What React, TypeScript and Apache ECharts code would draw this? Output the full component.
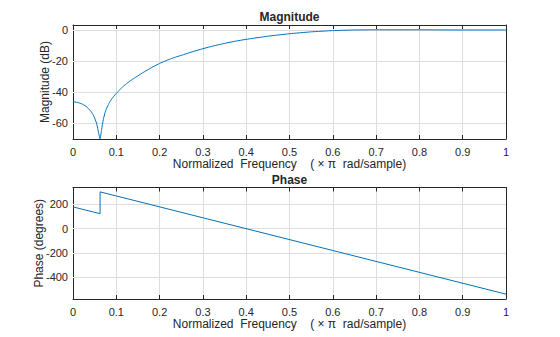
import React, { useEffect, useRef } from "react";
import * as echarts from "echarts";

// Magnitude response (normalized frequency, dB)
const magFreq = [0, 0.01, 0.02, 0.03, 0.04, 0.045, 0.05, 0.055, 0.059, 0.0625, 0.066, 0.07, 0.074, 0.077, 0.081, 0.085, 0.09, 0.095, 0.1, 0.107, 0.115, 0.122, 0.13, 0.14, 0.15, 0.162, 0.175, 0.187, 0.2, 0.212, 0.225, 0.237, 0.25, 0.275, 0.3, 0.325, 0.35, 0.375, 0.4, 0.45, 0.5, 0.55, 0.6, 0.65, 0.7, 0.8, 0.9, 1];
const magDb = [-46.1, -46.5, -47.4, -49, -51.8, -53.7, -56.5, -60.5, -66, -69.9, -64, -57.5, -53.1, -50.7, -48.3, -46.2, -44.1, -42.3, -40.7, -38.7, -36.4, -34.9, -33.1, -31.2, -29.4, -27.3, -25.2, -23.3, -21.5, -20.0, -18.6, -17.4, -16.3, -14.05, -12, -10.2, -8.6, -7.2, -6, -4, -2.4, -1.2, -0.4, 0, 0.1, 0.1, 0, 0];

// Phase response (normalized frequency, degrees)
const phaseFreq = [0, 0.0625, 0.0625, 1];
const phaseDeg = [180, 124, 304, -540];

const magTicks = [-60, -40, -20, 0];
const phaseTicks = [-400, -200, 0, 200];

const FONT = "Liberation Sans, Arial, Helvetica, sans-serif";
const INK = "#262626";
const GRIDC = "#dedede";
const LINE = "#0072BD";
const XNAME = "Normalized  Frequency    ( × π  rad/sample)";
const FS = 12;
const TFS = 11;

export default function App() {
  const ref = useRef<HTMLDivElement>(null);
  useEffect(() => {
    if (!ref.current) return;
    const chart = echarts.init(ref.current, null, { renderer: "svg" });
    const grids = [
      { left: 73, top: 25, width: 433, height: 114 },
      { left: 73, top: 187.5, width: 433, height: 111.5 },
    ];
    const xAxes: any[] = [];
    const yAxes: any[] = [];
    [0, 1].forEach((g) => {
      xAxes.push({
        type: "value",
        gridIndex: g,
        min: 0,
        max: 1,
        interval: 0.1,
        position: "bottom",
        name: XNAME,
        nameLocation: "middle",
        nameGap: 19,
        nameMoveOverlap: false,
        nameTextStyle: { fontFamily: FONT, fontSize: FS, color: INK },
        axisLine: { show: true, onZero: false, lineStyle: { color: INK, width: 1 } },
        axisTick: { show: true, inside: true, length: 4, lineStyle: { color: INK } },
        axisLabel: {
          show: true,
          fontFamily: FONT,
          fontSize: TFS,
          color: INK,
          margin: 7,
          formatter: (v: number) => String(Math.round(v * 10) / 10),
        },
        splitLine: { show: true, lineStyle: { color: GRIDC, width: 1 } },
      });
      xAxes.push({
        type: "value",
        gridIndex: g,
        min: 0,
        max: 1,
        interval: 0.1,
        position: "top",
        axisLine: { show: true, onZero: false, lineStyle: { color: INK, width: 1 } },
        axisTick: { show: true, inside: true, length: 4, lineStyle: { color: INK } },
        axisLabel: { show: false },
        splitLine: { show: false },
      });
      const ticks = g === 0 ? magTicks : phaseTicks;
      const min = g === 0 ? -70 : -580;
      const max = g === 0 ? 3.2 : 340;
      yAxes.push({
        type: "value",
        gridIndex: g,
        min,
        max,
        position: "left",
        name: g === 0 ? "Magnitude (dB)" : "Phase (degrees)",
        nameLocation: "middle",
        nameGap: g === 0 ? 22 : 28.5,
        nameMoveOverlap: false,
        nameTextStyle: { fontFamily: FONT, fontSize: FS, color: INK },
        axisLine: { show: true, onZero: false, lineStyle: { color: INK, width: 1 } },
        axisTick: { show: true, inside: true, length: 4, customValues: ticks, lineStyle: { color: INK } },
        axisLabel: {
          show: true,
          fontFamily: FONT,
          fontSize: TFS,
          color: INK,
          margin: 5,
          customValues: ticks,
        },
        splitLine: { show: false },
      });
      yAxes.push({
        type: "value",
        gridIndex: g,
        min,
        max,
        position: "right",
        axisLine: { show: true, onZero: false, lineStyle: { color: INK, width: 1 } },
        axisTick: { show: true, inside: true, length: 4, customValues: ticks, lineStyle: { color: INK } },
        axisLabel: { show: false },
        splitLine: { show: false },
      });
    });

    const gridMark = (ticks: number[]) => ({
      silent: true,
      symbol: "none",
      z: 1,
      label: { show: false },
      lineStyle: { color: GRIDC, type: "solid", width: 1 },
      emphasis: { disabled: true },
      data: ticks.map((v) => ({ yAxis: v })),
    });

    chart.setOption({
      animation: false,
      backgroundColor: "#ffffff",
      title: [
        {
          text: "Magnitude",
          left: 289.5,
          top: 11,
          padding: 0,
          textAlign: "center",
          textStyle: { fontFamily: FONT, fontSize: FS, fontWeight: "bold", color: INK },
        },
        {
          text: "Phase",
          left: 289.5,
          top: 174,
          padding: 0,
          textAlign: "center",
          textStyle: { fontFamily: FONT, fontSize: FS, fontWeight: "bold", color: INK },
        },
      ],
      grid: grids,
      xAxis: xAxes,
      yAxis: yAxes,
      series: [
        {
          type: "line",
          xAxisIndex: 0,
          yAxisIndex: 0,
          z: 3,
          showSymbol: false,
          symbol: "none",
          smooth: 0.15,
          lineStyle: { color: LINE, width: 1 },
          data: magFreq.map((f, i) => [f, magDb[i]]),
          markLine: gridMark(magTicks),
        },
        {
          type: "line",
          xAxisIndex: 2,
          yAxisIndex: 2,
          z: 3,
          showSymbol: false,
          symbol: "none",
          lineStyle: { color: LINE, width: 1 },
          data: phaseFreq.map((f, i) => [f, phaseDeg[i]]),
          markLine: gridMark(phaseTicks),
        },
      ],
    });
    return () => chart.dispose();
  }, []);
  return <div ref={ref} style={{ width: 560, height: 337, position: "absolute", left: 0, top: 0 }} />;
}
